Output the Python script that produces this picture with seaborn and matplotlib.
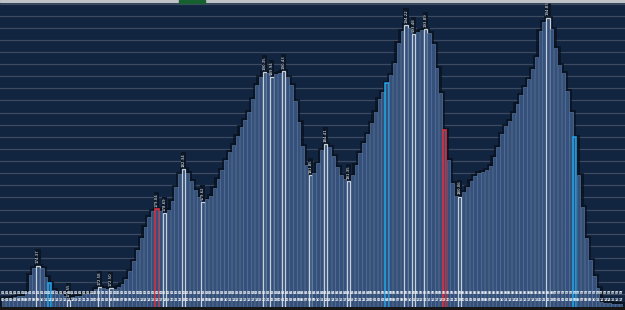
import pandas as pd
from matplotlib import pyplot as plt
from matplotlib import transforms
from matplotlib.patches import Rectangle
import seaborn as sns

# bar values (price per period)
prices = [
    171.60, 171.70, 171.60, 171.80, 171.90, 171.90, 172.22, 173.60, 174.15, 174.37,
    174.18, 173.43, 172.91, 172.36, 172.05, 172.00, 171.90, 171.55, 171.80, 171.85,
    171.90, 172.00, 172.05, 172.14, 172.42, 172.58, 172.50, 172.42, 172.50, 172.42,
    172.58, 172.86, 173.24, 173.95, 174.75, 175.66, 176.68, 177.58, 178.41, 178.90,
    179.04, 178.90, 178.69, 178.96, 179.70, 180.86, 181.93, 182.34, 182.01, 181.35,
    180.61, 180.03, 179.62, 179.87, 180.12, 180.78, 181.52, 182.26, 183.09, 183.75,
    184.33, 185.07, 185.81, 186.39, 187.05, 188.12, 189.28, 189.94, 190.35, 190.27,
    189.94, 190.18, 190.27, 190.43, 189.94, 189.28, 187.96, 186.22, 184.24, 182.67,
    181.85, 182.01, 182.84, 183.91, 184.41, 184.16, 183.42, 182.51, 181.85, 181.52,
    181.35, 181.85, 182.67, 183.66, 184.49, 185.23, 186.14, 187.05, 188.12, 188.70,
    189.44, 190.10, 191.09, 192.74, 193.73, 194.22, 193.98, 193.48, 193.65, 193.81,
    193.89, 193.56, 192.66, 190.68, 188.62, 185.56, 183.09, 181.19, 180.12, 180.06,
    180.47, 180.83, 181.35, 181.77, 182.04, 182.12, 182.26, 182.59, 183.31, 184.18,
    185.23, 185.92, 186.33, 186.99, 187.71, 188.45, 189.09, 189.75, 190.60, 191.56,
    193.73, 194.45, 194.83, 193.87, 192.35, 190.93, 190.29, 188.81, 187.02, 185.01,
    181.85, 179.23, 176.63, 174.84, 173.52, 172.50, 171.40, 171.30, 171.30, 171.20,
    171.20, 171.20,
]

# bars that carry a value label, and bars with a coloured outline
labelled = [9, 17, 25, 28, 40, 42, 47, 52, 68, 70, 73, 80, 84, 90,
            105, 107, 110, 119, 142]
red_bars = [40, 115]
cyan_bars = [12, 100, 149]

# two-row tick labels under the bars (day, hour)
periods = pd.date_range('2023-03-01 00:00', periods=len(prices), freq='h')
tick_days = [p.strftime('%d') for p in periods]
tick_hours = [p.strftime('%H') for p in periods]

BG = '#112440'


def plot_bars(df):
    fig = plt.figure(figsize=(6.25, 3.1), dpi=100, facecolor='#161616')
    ax = fig.add_axes([0, 3.5 / 310, 1, 304 / 310])
    ax.set_facecolor(BG)

    # dark halo behind the bars
    sns.barplot(data=df, x='idx', y='price', color='#08111d', width=1.0,
                saturation=1, linewidth=3.5, edgecolor='#08111d', alpha=0.75,
                errorbar=None, ax=ax)
    n0 = len(ax.patches)
    sns.barplot(data=df, x='idx', y='price', color='#35507a', width=0.88,
                saturation=1, linewidth=0.5, edgecolor='#56739a',
                errorbar=None, ax=ax)
    bars = ax.patches[n0:]

    for i in labelled:
        bars[i].set_edgecolor('#c6d0dc')
        bars[i].set_linewidth(0.9)
    for i in red_bars:
        bars[i].set_edgecolor('#d8303c')
        bars[i].set_linewidth(1.2)
    for i in cyan_bars:
        bars[i].set_edgecolor('#1fa8ee')
        bars[i].set_linewidth(1.1)

    # value labels above the highlighted bars
    for i in labelled:
        ax.text(i, prices[i] + 0.2, f"{prices[i]:.2f}", rotation=90,
                ha='center', va='bottom', fontsize=2.8, color='white',
                bbox=dict(boxstyle='square,pad=0.15', fc='#0b1727', ec='none'))

    # tick labels drawn inside the plot, two rows
    trans = transforms.blended_transform_factory(ax.transData, ax.transAxes)
    for i in range(len(prices)):
        ax.text(i, 0.043, tick_days[i], transform=trans, fontsize=2.3,
                color='#eef2f7', ha='center', va='center', fontweight='bold')
        ax.text(i, 0.023, tick_hours[i], transform=trans, fontsize=2.3,
                color='#eef2f7', ha='center', va='center', fontweight='bold')

    ax.set_ylim(171, 171 + 304 / 12.12)
    ax.set_xlim(-0.91, 162.1)
    ax.set_yticks(range(172, 197))
    ax.set_xticks([])
    ax.grid(axis='y', color='#3c4b5f', linewidth=0.9)
    ax.grid(axis='x', visible=False)
    ax.set_axisbelow(True)
    ax.tick_params(left=False, labelleft=False, bottom=False)
    ax.set_xlabel('')
    ax.set_ylabel('')
    for s in ax.spines.values():
        s.set_visible(False)

    # window strip at the top
    fig.add_artist(Rectangle((0, 1 - 2 / 310), 1, 2 / 310,
                             transform=fig.transFigure, color='#bfc2c6'))
    fig.add_artist(Rectangle((179 / 625, 1 - 2.5 / 310), 26 / 625, 2.5 / 310,
                             transform=fig.transFigure, color='#17602f'))

    fig.savefig('out.png', dpi=100, facecolor=fig.get_facecolor())


def main():
    df = pd.DataFrame({'idx': range(len(prices)), 'price': prices})
    plot_bars(df)


if __name__ == "__main__":
    main()
